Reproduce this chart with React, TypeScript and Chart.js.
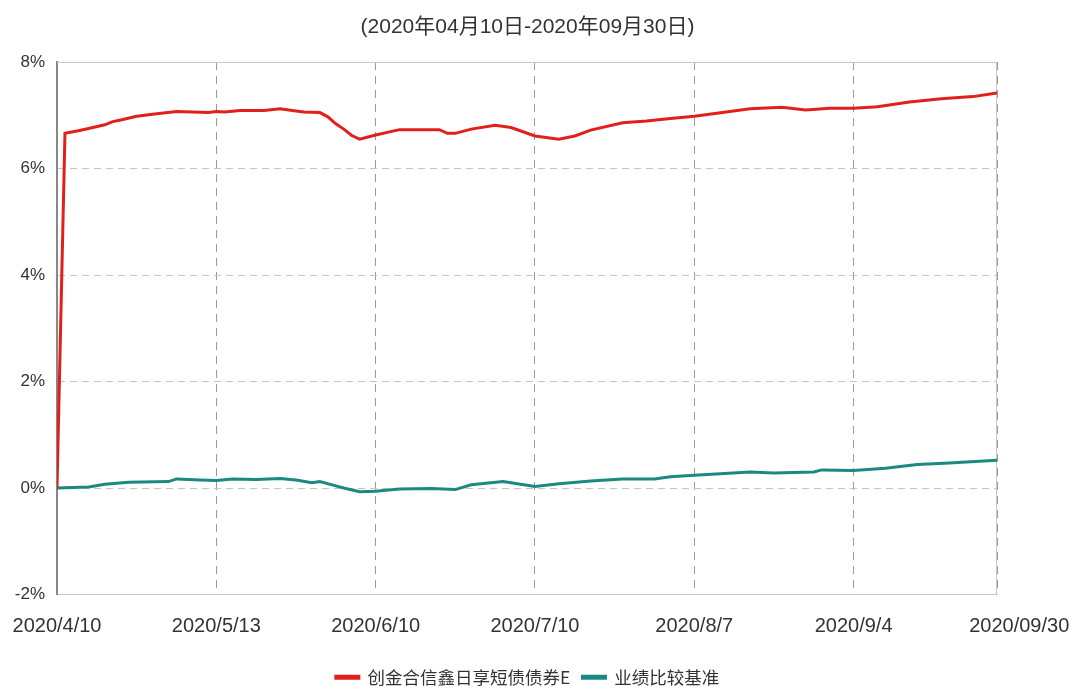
import React, { useEffect, useRef } from "react";
import { Chart, registerables } from "chart.js";

Chart.register(...registerables);

const titleText = "(2020年04月10日-2020年09月30日)";
const seriesNames = ["创金合信鑫日享短债债券E", "业绩比较基准"];

// trading-day index of each x tick and its label
const tickIndex = [0, 20, 40, 60, 80, 100, 118];
const tickLabels = ["2020/4/10", "2020/5/13", "2020/6/10", "2020/7/10", "2020/8/7", "2020/9/4", "2020/09/30"];

const yMin = -2;
const yMax = 8;
const yStep = 2;

// fund cumulative return (%), by trading-day index
const fundDays = [0, 1, 3, 6, 7, 8, 10, 12, 15, 17, 19, 20, 21, 23, 26, 28, 30, 31, 33, 34, 35, 36, 37, 38, 40, 43, 45, 48, 49, 50, 52, 55, 57, 60, 63, 65, 67, 71, 74, 77, 80, 84, 87, 91, 94, 97, 100, 103, 107, 111, 115, 118];
const fundValues = [0.0, 6.66, 6.72, 6.82, 6.88, 6.91, 6.98, 7.02, 7.07, 7.06, 7.05, 7.07, 7.06, 7.09, 7.09, 7.12, 7.08, 7.06, 7.05, 6.97, 6.84, 6.74, 6.62, 6.55, 6.63, 6.73, 6.73, 6.73, 6.66, 6.66, 6.74, 6.81, 6.77, 6.61, 6.55, 6.61, 6.72, 6.86, 6.89, 6.94, 6.98, 7.06, 7.12, 7.15, 7.10, 7.13, 7.13, 7.16, 7.25, 7.31, 7.35, 7.42];

// benchmark cumulative return (%), by trading-day index
const benchDays = [0, 4, 6, 9, 14, 15, 18, 20, 22, 25, 28, 30, 32, 33, 35, 36, 38, 40, 43, 47, 50, 52, 56, 60, 63, 67, 71, 75, 77, 80, 87, 90, 95, 96, 100, 104, 108, 112, 118];
const benchValues = [0.0, 0.02, 0.07, 0.11, 0.12, 0.17, 0.15, 0.14, 0.17, 0.16, 0.18, 0.15, 0.10, 0.12, 0.04, 0.0, -0.07, -0.06, -0.02, -0.01, -0.03, 0.06, 0.12, 0.03, 0.08, 0.13, 0.17, 0.17, 0.21, 0.24, 0.30, 0.28, 0.30, 0.34, 0.33, 0.37, 0.44, 0.47, 0.52];

const RED = "#e1201c";
const TEAL = "#1a8a80";
const SANS = "'Liberation Sans', Arial, 'Noto Sans CJK SC', sans-serif";
const CJK = "'Noto Sans CJK SC', sans-serif";

const W = 1073;
const H = 696;

export default function App() {
  const ref = useRef<HTMLCanvasElement>(null);

  useEffect(() => {
    const canvas = ref.current;
    if (!canvas) return;

    const boxPlugin = {
      id: "plotBox",
      beforeDatasetsDraw(chart: any) {
        const { ctx, chartArea: a } = chart;
        ctx.save();
        ctx.strokeStyle = "#c8c8c8";
        ctx.lineWidth = 1;
        ctx.setLineDash([]);
        ctx.beginPath();
        ctx.moveTo(a.left, a.top + 0.5);
        ctx.lineTo(a.right - 0.5, a.top + 0.5);
        ctx.lineTo(a.right - 0.5, a.bottom);
        ctx.stroke();
        ctx.restore();
      },
    };

    const chart = new Chart(canvas, {
      type: "line",
      data: {
        datasets: [
          {
            label: seriesNames[0],
            data: fundDays.map((d, i) => ({ x: d, y: fundValues[i] })),
            borderColor: RED,
            backgroundColor: RED,
            borderWidth: 3,
            pointRadius: 0,
            tension: 0,
            yAxisID: "y",
          },
          {
            label: seriesNames[1],
            data: benchDays.map((d, i) => ({ x: d, y: benchValues[i] })),
            borderColor: TEAL,
            backgroundColor: TEAL,
            borderWidth: 3,
            pointRadius: 0,
            tension: 0,
            yAxisID: "y",
          },
        ],
      },
      options: {
        responsive: false,
        animation: false,
        devicePixelRatio: 1,
        layout: { padding: { left: 0, right: 18, top: 0, bottom: 0 } },
        scales: {
          x: {
            type: "linear",
            min: tickIndex[0],
            max: tickIndex[tickIndex.length - 1],
            afterBuildTicks: (s: any) => {
              s.ticks = tickIndex.map((v) => ({ value: v }));
            },
            afterFit: (s: any) => {
              s.height = 62;
              s.paddingLeft = 0;
              s.paddingRight = 0;
            },
            ticks: {
              autoSkip: false,
              maxRotation: 0,
              minRotation: 0,
              padding: 20,
              color: "#333",
              font: { family: SANS, size: 20 },
              callback: (v: any) => {
                const i = tickIndex.indexOf(Number(v));
                if (i < 0) return "";
                return i === tickIndex.length - 1 ? "        " + tickLabels[i] : tickLabels[i];
              },
            },
            grid: { color: "#9a9a9a", drawTicks: false, lineWidth: 1 },
            border: { color: "#c8c8c8", width: 1, dash: [8, 6] },
          },
          y: {
            type: "linear",
            position: "left",
            min: yMin,
            max: yMax,
            afterFit: (s: any) => {
              s.width = 57;
            },
            ticks: {
              stepSize: yStep,
              padding: 12,
              color: "#333",
              font: { family: SANS, size: 17 },
              callback: (v: any) => `${v}%`,
            },
            grid: { color: "#c4c4c4", drawTicks: false, lineWidth: 1 },
            border: { color: "#888", width: 2, dash: [7, 5] },
          },
          y2: {
            type: "linear",
            position: "right",
            display: true,
            min: 0,
            max: 1,
            afterFit: (s: any) => {
              s.width = 58;
            },
            grid: { display: false, drawTicks: false },
            border: { display: false },
            ticks: { display: false },
          },
        },
        plugins: {
          title: {
            display: true,
            text: titleText,
            color: "#333",
            font: { family: SANS, size: 21, weight: "normal" },
            padding: { top: 15, bottom: 21.8 },
          },
          legend: {
            display: true,
            position: "bottom",
            labels: {
              boxWidth: 23,
              boxHeight: 2,
              padding: 12,
              color: "#333",
              font: { family: CJK, size: 17.5 },
            },
          },
          tooltip: { enabled: false },
        },
      } as any,
      plugins: [boxPlugin],
    });

    return () => chart.destroy();
  }, []);

  return (
    <div style={{ position: "fixed", left: 0, top: 0, width: W, height: H, background: "#fff" }}>
      <canvas ref={ref} width={W} height={H} style={{ display: "block", width: W, height: H }} />
    </div>
  );
}
